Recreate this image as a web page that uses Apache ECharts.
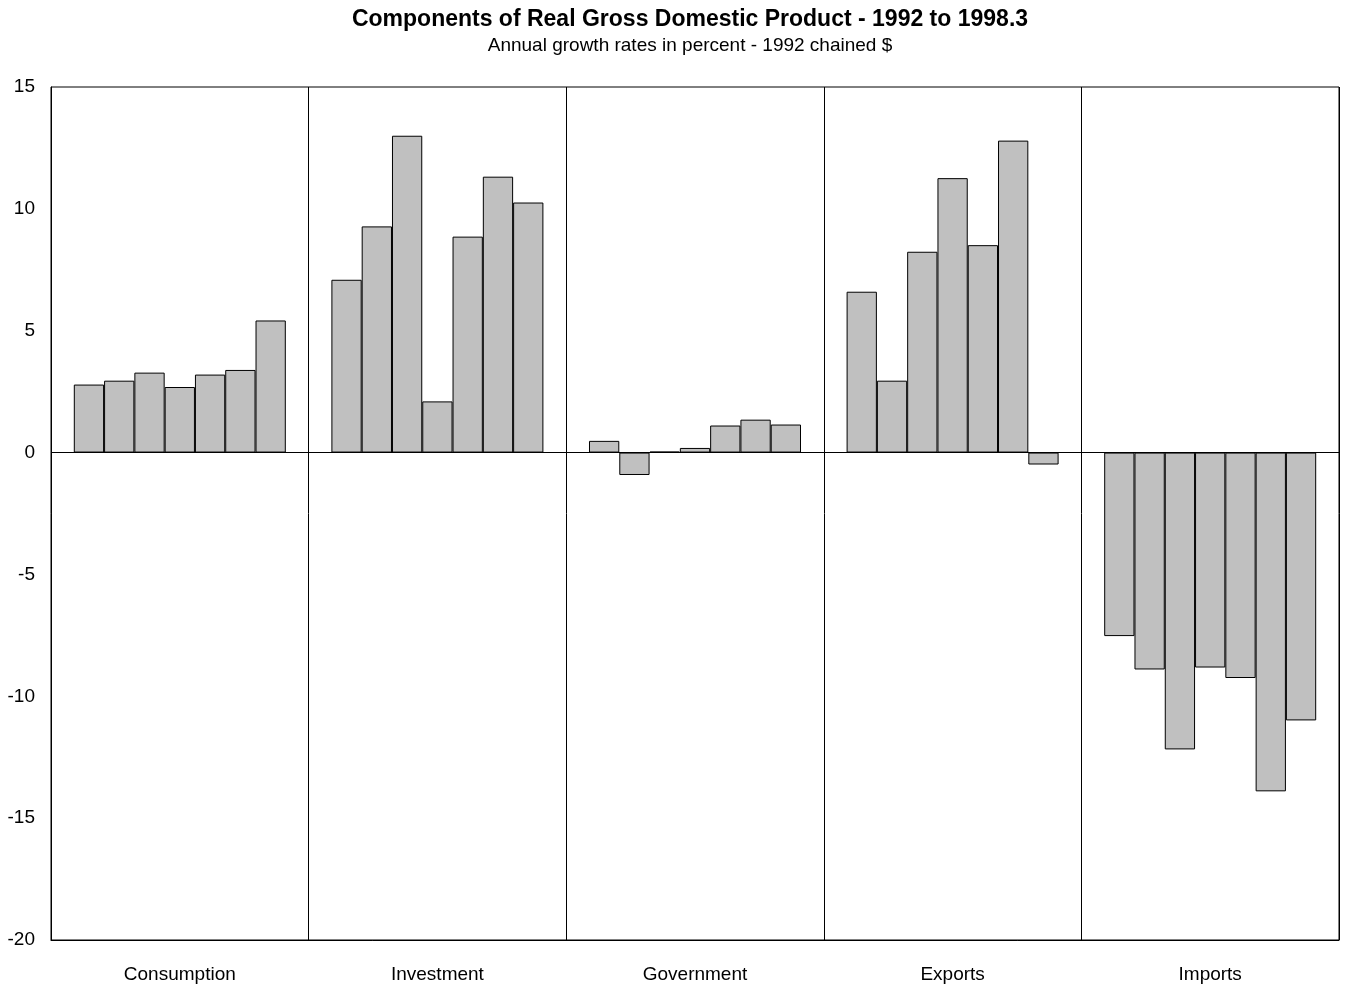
<!DOCTYPE html>
<html><head><meta charset="utf-8">
<script src="https://cdn.jsdelivr.net/npm/echarts@6/dist/echarts.min.js"></script>
<style>html,body{margin:0;padding:0;background:#fff}#c{width:1346px;height:989px}</style>
</head><body><div id="c"></div>
<script>
const categories = ['Consumption','Investment','Government','Exports','Imports'];
const years = ['1992','1993','1994','1995','1996','1997','1998'];
const v1992 = [2.79, 7.09, 0.48, 6.60, -7.53];
const v1993 = [2.95, 9.28, -0.92, 2.95, -8.90];
const v1994 = [3.28, 13.0, 0.04, 8.24, -12.18];
const v1995 = [2.69, 2.10, 0.19, 11.26, -8.82];
const v1996 = [3.20, 8.86, 1.11, 8.51, -9.25];
const v1997 = [3.39, 11.32, 1.35, 12.80, -13.90];
const v1998 = [5.42, 10.26, 1.15, -0.49, -10.99];
const yearValues = [v1992, v1993, v1994, v1995, v1996, v1997, v1998];

const font = 'Liberation Sans, Arial, sans-serif';
const chart = echarts.init(document.getElementById('c'));
const series = yearValues.map((vals, i) => ({
  name: years[i], type: 'bar', data: vals,
  barGap: '0%', barCategoryGap: '17.7%',
  itemStyle: {color: '#c0c0c0', borderColor: '#000', borderWidth: 1},
  silent: true,
  markLine: i === 0 ? {silent: true, symbol: 'none', label: {show: false},
    lineStyle: {color: '#000', width: 1, type: 'solid'}, data: [{yAxis: 0}]} : undefined
}));
chart.setOption({
  animation: false,
  title: {text: 'Components of Real Gross Domestic Product - 1992 to 1998.3',
    subtext: 'Annual growth rates in percent - 1992 chained $',
    left: 685, textAlign: 'center', top: 3, itemGap: 5,
    textStyle: {fontFamily: font, fontSize: 23, fontWeight: 'bold', color: '#000'},
    subtextStyle: {fontFamily: font, fontSize: 19, color: '#000'}},
  grid: {left: 51, right: 7, top: 87, bottom: 49, show: true, borderColor: '#000', borderWidth: 1, backgroundColor: 'transparent'},
  xAxis: {type: 'category', data: categories,
    axisLine: {show: true, onZero: false, lineStyle: {color: '#000'}},
    axisTick: {show: false},
    splitLine: {show: true, lineStyle: {color: '#000', width: 1}},
    axisLabel: {fontFamily: font, fontSize: 19, color: '#000', margin: 25}},
  yAxis: {type: 'value', min: -20, max: 15, interval: 5,
    axisLine: {show: true, lineStyle: {color: '#000'}},
    axisTick: {show: false}, splitLine: {show: false},
    axisLabel: {fontFamily: font, fontSize: 19, color: '#000', margin: 16}},
  series: series
});
</script></body></html>
